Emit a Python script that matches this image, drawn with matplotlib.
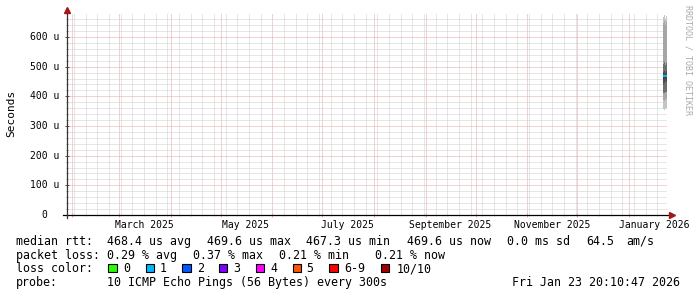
import matplotlib
matplotlib.use('Agg')
import matplotlib.pyplot as plt
import matplotlib.dates as mdates
from matplotlib.ticker import MultipleLocator, FixedLocator
from matplotlib.patches import Rectangle
from datetime import datetime, timedelta
import numpy as np

W, H = 697, 297
MONO = 'DejaVu Sans Mono'

# ---------------- data ----------------
graph_end = datetime(2026, 1, 23, 20, 10, 47)
graph_span_days = 360
step_days = 0.6

sample_times = ["2026-01-21 10:30", "2026-01-22 00:55", "2026-01-22 15:20", "2026-01-23 05:45"]
# sorted ping rtts (microseconds) per consolidated step
pings_step1 = [356, 388, 412, 442, 460, 467, 481, 510, 648, 668]
pings_step2 = [354, 385, 411, 446, 463, 469, 486, 515, 655, 673]
pings_step3 = [360, 392, 415, 450, 462, 468, 479, 505, 640, 660]
pings_step4 = [357, 390, 413, 447, 461, 470, 484, 512, 650, 670]
median_us = [467.3, 469.1, 468.0, 469.6]
loss_count = [1, 1, 1, 1]

y_ticks_us = [0, 100, 200, 300, 400, 500, 600]
y_tick_labels = ["0", "100 u", "200 u", "300 u", "400 u", "500 u", "600 u"]
month_label_dates = ["2025-03-01", "2025-05-01", "2025-07-01", "2025-09-01", "2025-11-01", "2026-01-01"]
month_labels = ["March 2025", "May 2025", "July 2025", "September 2025", "November 2025", "January 2026"]

loss_labels = ["0", "1", "2", "3", "4", "5", "6-9", "10/10"]
loss_colors = ["#26ff00", "#00b8ff", "#0059ff", "#7e00ff", "#ff00ff", "#ff5500", "#ff0000", "#a10000"]

rtt_avg, rtt_max, rtt_min, rtt_now = 468.4, 469.6, 467.3, 469.6
rtt_sd_ms, am_s = 0.0, 64.5
loss_avg, loss_max, loss_min, loss_now = 0.29, 0.37, 0.21, 0.21
probe_text = "10 ICMP Echo Pings (56 Bytes) every 300s"
stamp_text = "Fri Jan 23 20:10:47 2026"

band_colors = ["#c4c4c4", "#a6a6a6", "#6e6e6e", "#4c4c4c", "#333333"]

# ---------------- figure ----------------
fig = plt.figure(figsize=(W / 100, H / 100), dpi=100)
fig.patch.set_facecolor('white')

L, R, T, B = 67, 667, 14, 215
ax = fig.add_axes([L / W, 1 - B / H, (R - L) / W, (B - T) / H])
ax.set_facecolor('white')

start = graph_end - timedelta(days=graph_span_days)
ax.set_xlim(mdates.date2num(start), mdates.date2num(graph_end))
ax.set_ylim(0, 677.5)

# grid
ax.set_axisbelow(True)
ax.yaxis.set_major_locator(FixedLocator(y_ticks_us))
ax.yaxis.set_minor_locator(MultipleLocator(20))
ax.xaxis.set_major_locator(mdates.MonthLocator())
ax.xaxis.set_minor_locator(mdates.WeekdayLocator(byweekday=mdates.SU))
ax.grid(which='minor', color='#cfcfcf', linestyle=(0, (1, 1)), linewidth=0.72)
ax.grid(which='major', color='#e8a4a4', linestyle=(0, (1, 1)), linewidth=0.72)
ax.tick_params(labelleft=False, labelbottom=False)
ax.tick_params(axis='x', which='major', length=3, width=0.7, color='#e8a4a4', direction='inout')
ax.tick_params(axis='x', which='minor', length=2, width=0.7, color='#cfcfcf', direction='inout')
ax.tick_params(axis='y', which='major', length=3, width=0.7, color='#555555', direction='inout')
ax.tick_params(axis='y', which='minor', length=2, width=0.6, color='#999999', direction='inout')
for s in ax.spines.values():
    s.set_visible(False)

# smoke
t0 = np.array([mdates.date2num(datetime.strptime(s, "%Y-%m-%d %H:%M")) for s in sample_times])
pings = np.array([pings_step1, pings_step2, pings_step3, pings_step4], dtype=float)
for k in range(5):
    lo = pings[:, k]
    hi = pings[:, 9 - k]
    ax.bar(t0, hi - lo, bottom=lo, width=step_days, align='edge',
           color=band_colors[k], linewidth=0, zorder=3)
ax.hlines(median_us, t0, t0 + step_days, colors=[loss_colors[l] for l in loss_count],
          linewidth=1.6, zorder=4)

# axis lines and arrows
ax.plot([-4 / 600, 1 + 5 / 600], [0, 0], transform=ax.transAxes, color='black',
        lw=0.9, clip_on=False, zorder=5)
ax.plot([0, 0], [-3 / 201, 1 + 4 / 201], transform=ax.transAxes, color='#333333',
        lw=0.9, clip_on=False, zorder=5)
ax.plot([0], [1 + 3.7 / 201], marker='^', markersize=4.2, color='#a01818',
        transform=ax.transAxes, clip_on=False, zorder=6, linestyle='none')
ax.plot([1 + 4.5 / 600], [0], marker='>', markersize=4.2, color='#a01818',
        transform=ax.transAxes, clip_on=False, zorder=6, linestyle='none')

# y tick labels
ytr = ax.get_yaxis_transform()
for v, lab in zip(y_ticks_us, y_tick_labels):
    xr = 47 if lab == "0" else 59.5
    ax.text((xr - L) / (R - L), v, lab, transform=ytr, ha='right', va='center',
            family=MONO, size=7, color='black')

# x month labels (centered mid-month, rrdtool style)
xtr = ax.get_xaxis_transform()
for d, lab in zip(month_label_dates, month_labels):
    dd = datetime.strptime(d, "%Y-%m-%d") + timedelta(days=15)
    ax.text(mdates.date2num(dd), -(228.5 - B) / (B - T), lab, transform=xtr,
            ha='center', va='baseline', family=MONO, size=7, color='black')

# axis label and watermark
fig.text(10.8 / W, 1 - 113.5 / H, "Seconds", rotation=90, ha='center', va='center',
         family=MONO, size=8, color='black')
fig.text(688 / W, 1 - 5 / H, "RRDTOOL / TOBI OETIKER", rotation=270, ha='center', va='top',
         family=MONO, size=6, color='#aaaaaa')

# legend
FS = 8.4
def t(x, y, s, **kw):
    fig.text(x / W, 1 - y / H, s, family=MONO, size=FS, va='baseline', color='black', **kw)

y1, y2, y3, y4 = 245, 258.7, 272.5, 286.2
t(16, y1, "median rtt:")
t(107, y1, f"{rtt_avg:.1f} us avg")
t(206.7, y1, f"{rtt_max:.1f} us max")
t(306, y1, f"{rtt_min:.1f} us min")
t(406.7, y1, f"{rtt_now:.1f} us now")
t(506.7, y1, f"{rtt_sd_ms:.1f} ms sd")
t(586.7, y1, f"{am_s:.1f}")
t(626, y1, "am/s")

t(16, y2, "packet loss:")
t(107, y2, f"{loss_avg:.2f} % avg")
t(193.3, y2, f"{loss_max:.2f} % max")
t(279.3, y2, f"{loss_min:.2f} % min")
t(375, y2, f"{loss_now:.2f} % now")

t(16, y3, "loss color:")
sq_x = [108.3, 145.7, 182.3, 219, 255.7, 292.7, 329.3, 381]
lab_x = [123.3, 160, 196.7, 233, 270, 306.7, 344.3, 396.7]
for sx, lx, lab, c in zip(sq_x, lab_x, loss_labels, loss_colors):
    fig.add_artist(Rectangle((sx / W, 1 - 272.3 / H), 8.3 / W, 8.3 / H,
                             transform=fig.transFigure, facecolor=c,
                             edgecolor='black', linewidth=0.8))
    t(lx, y3, lab)

t(16, y4, "probe:")
t(107, y4, probe_text)
t(680, y4, stamp_text, ha='right')

fig.savefig("out.png", dpi=100, facecolor='white')
